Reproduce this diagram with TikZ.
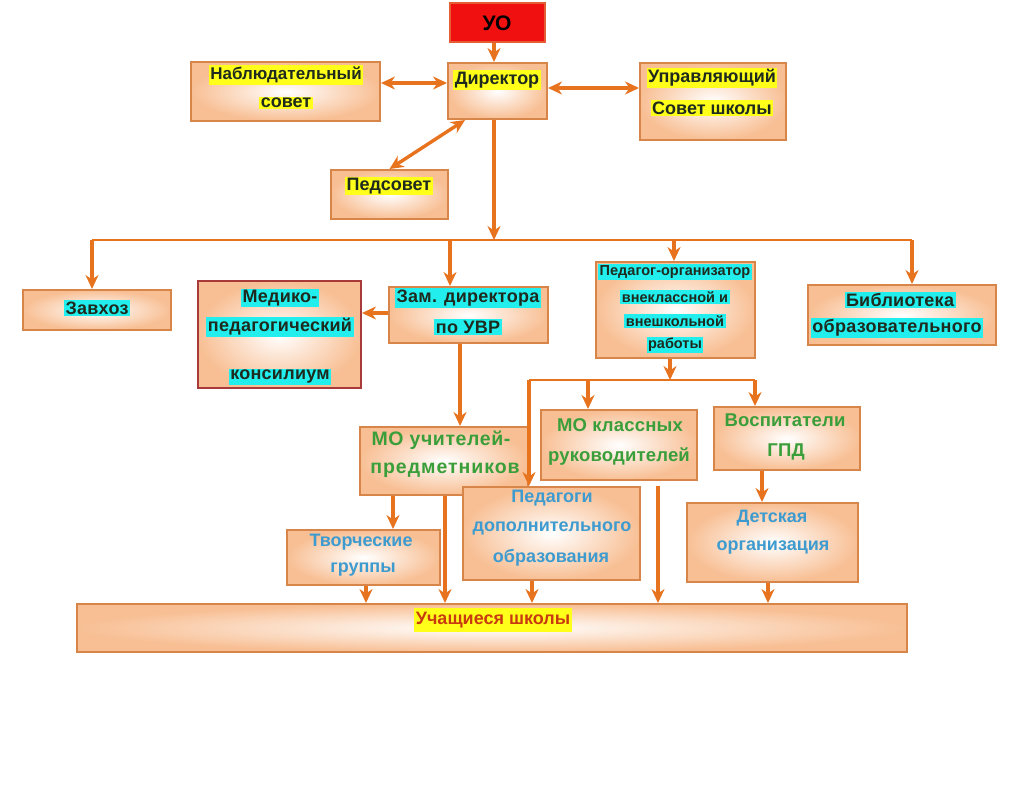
\documentclass[tikz,border=0pt]{standalone}
\usepackage{fontspec}
\setmainfont{Liberation Sans}
\usetikzlibrary{arrows.meta,fit,calc}
\definecolor{peach}{HTML}{F8BF94}
\definecolor{bord}{HTML}{D8854A}
\definecolor{arrc}{HTML}{E8731F}
\definecolor{hly}{HTML}{FFFF1A}
\definecolor{hlc}{HTML}{22EEEE}
\definecolor{tgreen}{HTML}{3A9E3A}
\definecolor{tblue}{HTML}{3E9BCF}
\definecolor{tred}{HTML}{C83A10}
\definecolor{uored}{HTML}{F01010}
\definecolor{medb}{HTML}{A83A3A}
\definecolor{tdark}{HTML}{1E2A1E}
\begin{document}
\begin{tikzpicture}[x=1pt,y=-1pt,
  plainbox/.style={draw=bord, line width=2pt, inner sep=0pt},
  box/.style={plainbox, inner color=white, outer color=peach},
  ln/.style={draw=arrc, line width=3.4pt},
  arr/.style={ln, -{Stealth[length=14pt,width=13pt]}},
  dbl/.style={ln, {Stealth[length=14pt,width=13pt]}-{Stealth[length=14pt,width=13pt]}},
  ty/.style={fill=hly, text=tdark, inner sep=1.5pt, font=\bfseries\fontsize{18}{19}\selectfont},
  tc/.style={fill=hlc, text=tdark, inner sep=1.5pt, font=\bfseries\fontsize{18}{19}\selectfont\addfontfeature{LetterSpace=1.5}},
  tcs/.style={tc, font=\bfseries\fontsize{14.5}{15}\selectfont},
  tg/.style={text=tgreen, inner sep=1pt, font=\bfseries\fontsize{18.5}{19}\selectfont\addfontfeature{LetterSpace=1}},
  tb/.style={text=tblue, inner sep=1pt, font=\bfseries\fontsize{18}{19}\selectfont}
]
\useasboundingbox[fill=white] (0,0) rectangle (1024,784);

% boxes
\node[plainbox, draw=bord!70!red, fill=uored, fit={(450,3) (545,42)}] (uo) {};
\node[box, fit={(448,63) (547,119)}] (dir) {};
\node[box, fit={(191,62) (380,121)}] (nab) {};
\node[box, fit={(640,63) (786,140)}] (upr) {};
\node[box, fit={(331,170) (448,219)}] (ped) {};
\node[box, fit={(23,290) (171,330)}] (zav) {};
\node[box, draw=medb, fit={(198,281) (361,388)}] (med) {};
\node[box, fit={(389,287) (548,343)}] (zam) {};
\node[box, fit={(596,262) (755,358)}] (porg) {};
\node[box, fit={(808,285) (996,345)}] (bib) {};
\node[box, fit={(360,427) (528,495)}] (mou) {};
\node[box, fit={(541,410) (697,480)}] (mok) {};
\node[box, fit={(714,407) (860,470)}] (vos) {};
\node[box, fit={(463,487) (640,580)}] (pdo) {};
\node[box, fit={(287,530) (440,585)}] (tvo) {};
\node[box, fit={(687,503) (858,582)}] (det) {};
\node[box, fit={(77,604) (907,652)}] (uch) {};

% texts
\node[text=black, font=\bfseries\fontsize{21}{22}\selectfont] (tuo) at (497,23) {УО};
\node[ty] (tdir) at (497,80) {Директор};
\node[ty, font=\bfseries\fontsize{17}{18}\selectfont] (tnab1) at (286,75) {Наблюдательный};
\node[ty] (tnab2) at (286,103) {совет};
\node[ty] (tupr1) at (712,78) {Управляющий};
\node[ty] (tupr2) at (712,108) {Совет школы};
\node[ty] (tped) at (389,186) {Педсовет};
\node[tc] (tzav) at (97,308) {Завхоз};
\node[tc] (tmed1) at (280,298) {Медико-};
\node[tc] (tmed2) at (280,327) {педагогический};
\node[tc] (tmed3) at (280,377) {консилиум};
\node[tc] (tzam1) at (468,298) {Зам. директора};
\node[tc] (tzam2) at (468,327) {по УВР};
\node[tcs] (tpo1) at (675,272) {Педагог-организатор};
\node[tcs] (tpo2) at (675,297) {внеклассной и};
\node[tcs] (tpo3) at (675,321) {внешкольной};
\node[tcs] (tpo4) at (675,345) {работы};
\node[tc] (tbib1) at (900,300) {Библиотека};
\node[tc] (tbib2) at (897,328) {образовательного};
\node[tg, font=\bfseries\fontsize{19.5}{20}\selectfont\addfontfeature{LetterSpace=3}] (tmou1) at (441,440) {МО учителей-};
\node[tg, font=\bfseries\fontsize{19.5}{20}\selectfont\addfontfeature{LetterSpace=5}] (tmou2) at (445,470) {предметников};
\node[tg] (tmok1) at (620,425) {МО классных};
\node[tg] (tmok2) at (619,457) {руководителей};
\node[tg] (tvos1) at (785,420) {Воспитатели};
\node[tg] (tvos2) at (786,452) {ГПД};
\node[tb] (tpdo1) at (552,498) {Педагоги};
\node[tb] (tpdo2) at (552,528) {дополнительного};
\node[tb] (tpdo3) at (551,558) {образования};
\node[tb] (ttvo1) at (361,542) {Творческие};
\node[tb] (ttvo2) at (363,570) {группы};
\node[tb] (tdet1) at (772,518) {Детская};
\node[tb] (tdet2) at (773,548) {организация};
\node[fill=hly, text=tred, inner xsep=2pt, inner ysep=4pt, font=\bfseries\fontsize{18}{19}\selectfont] (tuch) at (493,620) {Учащиеся школы};

% top connectors
\draw[arr] (uo.south -| 494,0) -- (dir.north -| 494,0);
\draw[dbl] (nab.east |- 0,83) -- (dir.west |- 0,83);
\draw[dbl] (dir.east |- 0,88) -- (upr.west |- 0,88);
\draw[dbl] ($(dir.south west)+(18,0)$) -- (ped.north);

% bus
\coordinate (bus) at (494,240);
\coordinate (busL) at (92,240);
\coordinate (busR) at (912,240);
\coordinate (bz) at (450,240);
\coordinate (bp) at (674,240);
\draw[ln, line width=2.6pt] (busL) -- (busR);
\draw[arr] (dir.south -| bus) -- (bus);
\draw[arr] (busL) -- (busL |- zav.north);
\draw[arr] (bz) -- (bz |- zam.north);
\draw[arr] (bp) -- (bp |- porg.north);
\draw[arr] (busR) -- (busR |- bib.north);

% middle
\draw[arr] (zam.west |- 0,313) -- (med.east |- 0,313);
\draw[arr] (zam.south -| 460,0) -- (mou.north -| 460,0);

\coordinate (j) at (670,380);
\coordinate (jl) at (529,380);
\coordinate (jm) at (588,380);
\coordinate (jr) at (755,380);
\draw[arr] (porg.south -| j) -- (j);
\draw[ln, line width=2.6pt] (jl) -- (jr);
\draw[arr] (jl) -- (jl |- pdo.north);
\draw[arr] (jm) -- (jm |- mok.north);
\draw[arr] (jr) -- (jr |- vos.north);

% lower
\draw[arr] (mou.south -| 393,0) -- (tvo.north -| 393,0);
\draw[arr] (mou.south -| 445,0) -- (uch.north -| 445,0);
\draw[arr] (tvo.south -| 366,0) -- (uch.north -| 366,0);
\draw[arr] (pdo.south -| 532,0) -- (uch.north -| 532,0);
\draw[arr] ($(mok.south -| 658,0)+(0,5)$) -- (uch.north -| 658,0);
\draw[arr] (vos.south -| 762,0) -- (det.north -| 762,0);
\draw[arr] (det.south -| 768,0) -- (uch.north -| 768,0);
\end{tikzpicture}
\end{document}
